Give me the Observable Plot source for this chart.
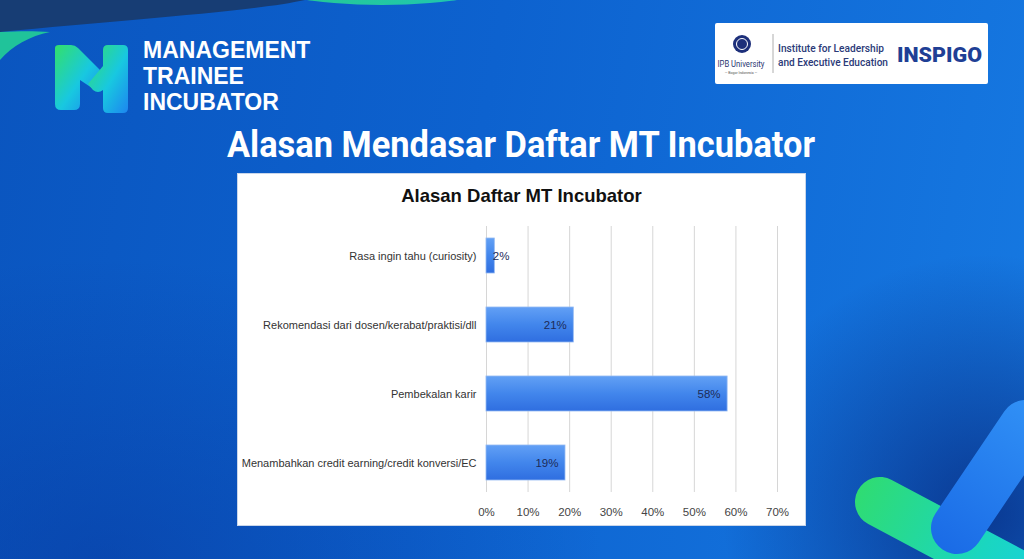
<!DOCTYPE html>
<html>
<head>
<meta charset="utf-8">
<script src="https://cdn.jsdelivr.net/npm/d3@7"></script>
<script src="https://cdn.jsdelivr.net/npm/@observablehq/plot@0.6"></script>
<style>
  html, body { margin: 0; padding: 0; }
  body {
    width: 1024px; height: 559px; overflow: hidden; position: relative;
    background:
      radial-gradient(ellipse 260px 260px at 96% 92%, rgba(6,36,120,0.75), rgba(6,36,120,0) 100%),
      radial-gradient(ellipse 500px 300px at 10% 100%, rgba(6,50,150,0.45), rgba(6,50,150,0) 100%),
      linear-gradient(100deg, #0a55bf 0%, #0d62cf 45%, #1679e2 100%);
    font-family: "Roboto", "Liberation Sans", sans-serif;
  }
  #deco { position: absolute; left: 0; top: 0; }
  .brand { position: absolute; left: 143px; color: #fff; font-family: "Liberation Sans", Arial, sans-serif;
           font-weight: 700; font-size: 23px; line-height: 26px; white-space: nowrap; }
  #pageTitle { position: absolute; left: 521px; top: 123px; color: #fff; white-space: nowrap;
               font-weight: 700; font-size: 37px; transform: translateX(-50%) scaleX(0.93); }
  #logoBox { position: absolute; left: 715px; top: 23px; width: 273px; height: 61px; background: #fff; border-radius: 2px; }
  #panel { position: absolute; left: 238px; top: 174px; width: 567px; height: 351px; background: #fff;
           box-shadow: 0 0 0 1px #c9d6ea; }
  #chartTitle { position: absolute; left: 0; width: 567px; top: 11px; text-align: center;
                font-family: "Liberation Sans", Arial, sans-serif; font-weight: 700; font-size: 18.5px; color: #111; }
  #plot { position: absolute; left: 0; top: 40px; }
</style>
</head>
<body>
<svg id="deco" width="1024" height="559" viewBox="0 0 1024 559">
  <defs>
    <linearGradient id="mGrad" x1="0" y1="0" x2="1" y2="1">
      <stop offset="0" stop-color="#33e06a"/>
      <stop offset="0.55" stop-color="#18c8e0"/>
      <stop offset="1" stop-color="#1d86f0"/>
    </linearGradient>
    <linearGradient id="greenPill" x1="0" y1="0" x2="1" y2="0">
      <stop offset="0" stop-color="#2fdc72"/>
      <stop offset="0.6" stop-color="#1ad6c0"/>
      <stop offset="1" stop-color="#17cfe6"/>
    </linearGradient>
    <linearGradient id="bluePill" x1="0" y1="0" x2="1" y2="0">
      <stop offset="0" stop-color="#1a6be6"/>
      <stop offset="1" stop-color="#3191f6"/>
    </linearGradient>
    <linearGradient id="tealArc" x1="0" y1="0" x2="1" y2="0">
      <stop offset="0" stop-color="#26c98f"/>
      <stop offset="1" stop-color="#1fc6b6"/>
    </linearGradient>
  </defs>
  <ellipse cx="382" cy="-20" rx="125" ry="25" fill="url(#tealArc)"/>
  <path d="M0,0 H305 C250,12 120,20 0,32 Z" fill="#173d74"/>
  <path d="M0,32 C20,31 35,31 50,32 C30,36 12,46 0,60 Z" fill="#20c39a"/>
  <!-- M logo -->
  <path d="M55,48 Q55,45 59,45 L71,45 Q75,45 78,48 L100,70 L92,88 Q86,84 80,80 L80,104 Q80,110 74,110 L61,110 Q55,110 55,104 Z" fill="url(#mGrad)"/>
  <path d="M103,50 Q103,45 108,45 L123,45 Q128,45 128,50 L128,108 Q128,113 123,113 L108,113 Q103,113 103,108 L103,90 Q98,94 93,90 L88,84 L103,66 Z" fill="url(#mGrad)"/>
  <!-- bottom-right shapes -->
  <rect x="855" y="477" width="230" height="50" rx="25" transform="rotate(28 880 502)" fill="url(#greenPill)"/>
  <rect x="931" y="502" width="175" height="52" rx="26" transform="rotate(-56 957 528)" fill="url(#bluePill)"/>
</svg>

<div class="brand" style="top:37px">MANAGEMENT</div>
<div class="brand" style="top:63px">TRAINEE</div>
<div class="brand" style="top:89px">INCUBATOR</div>

<div id="logoBox">
  <svg width="273" height="61">
    <circle cx="27" cy="21" r="9" fill="#1d2f7a"/>
    <circle cx="27" cy="21" r="5.5" fill="none" stroke="#fff" stroke-width="1"/>
    <text x="26" y="44" text-anchor="middle" font-family="Roboto, sans-serif" font-size="8.5" fill="#2a3570" textLength="47" lengthAdjust="spacingAndGlyphs">IPB University</text>
    <text x="26" y="51" text-anchor="middle" font-family="Roboto, sans-serif" font-size="3.5" fill="#555">— Bogor Indonesia —</text>
    <line x1="58" y1="11" x2="58" y2="50" stroke="#999" stroke-width="0.8"/>
    <text x="63" y="29" font-family="Roboto, sans-serif" font-size="11.5" font-weight="500" fill="#2b3a78" textLength="106" lengthAdjust="spacingAndGlyphs">Institute for Leadership</text>
    <text x="63" y="43" font-family="Roboto, sans-serif" font-size="11.5" font-weight="500" fill="#2b3a78" textLength="110" lengthAdjust="spacingAndGlyphs">and Executive Education</text>
    <text x="182" y="39" font-family="Roboto, sans-serif" font-size="20" font-weight="900" fill="#1f3f95" textLength="85" lengthAdjust="spacingAndGlyphs">INSPIGO</text>
  </svg>
</div>

<div id="pageTitle">Alasan Mendasar Daftar MT Incubator</div>

<div id="panel">
  <div id="chartTitle">Alasan Daftar MT Incubator</div>
  <div id="plot"></div>
</div>

<script>
const categories = [
  "Rasa ingin tahu (curiosity)",
  "Rekomendasi dari dosen/kerabat/praktisi/dll",
  "Pembekalan karir",
  "Menambahkan credit earning/credit konversi/EC"
];
const shares = [0.02, 0.21, 0.58, 0.19];
const xTicks = [0, 0.1, 0.2, 0.3, 0.4, 0.5, 0.6, 0.7];

const rows = categories.map((c, i) => ({category: c, share: shares[i]}));
const pct = d3.format(".0%");

const chart = Plot.plot({
  width: 567,
  height: 311,
  marginLeft: 248,
  marginRight: 28,
  marginTop: 12,
  marginBottom: 33,
  style: {fontFamily: "'Liberation Sans', Arial, sans-serif", fontSize: "11px", color: "#333", background: "transparent"},
  x: {domain: [0, 0.7], label: null},
  y: {domain: categories, paddingInner: 0.49, paddingOuter: 0.17, label: null},
  marks: [
    Plot.gridX(xTicks, {stroke: "#d6d6d6", strokeOpacity: 1}),
    Plot.barX(rows, {y: "category", x: "share", fill: "url(#barGrad)", stroke: "#93b9f3", strokeWidth: 0.8}),
    Plot.text(rows.filter(d => d.share >= 0.05), {y: "category", x: "share", text: d => pct(d.share), textAnchor: "end", dx: -7, fill: "#1d2b58", fontSize: 11.5}),
    Plot.text(rows.filter(d => d.share < 0.05), {y: "category", x: "share", text: d => pct(d.share), textAnchor: "start", dx: -2, fill: "#1d2b58", fontSize: 11.5}),
    Plot.axisX({ticks: xTicks, tickFormat: pct, tickSize: 0, tickPadding: 15, label: null, fill: "#444", fontSize: 11.5}),
    Plot.axisY({tickSize: 0, tickPadding: 10, label: null, fill: "#333"})
  ]
});

const svg = d3.select(chart);
const defs = svg.insert("defs", ":first-child");
const g = defs.append("linearGradient").attr("id", "barGrad").attr("x1", 0).attr("y1", 0).attr("x2", 0).attr("y2", 1);
g.append("stop").attr("offset", 0).attr("stop-color", "#62a0f5");
g.append("stop").attr("offset", 0.5).attr("stop-color", "#4286ec");
g.append("stop").attr("offset", 1).attr("stop-color", "#2f6ee0");

document.getElementById("plot").appendChild(chart);
</script>
</body>
</html>
